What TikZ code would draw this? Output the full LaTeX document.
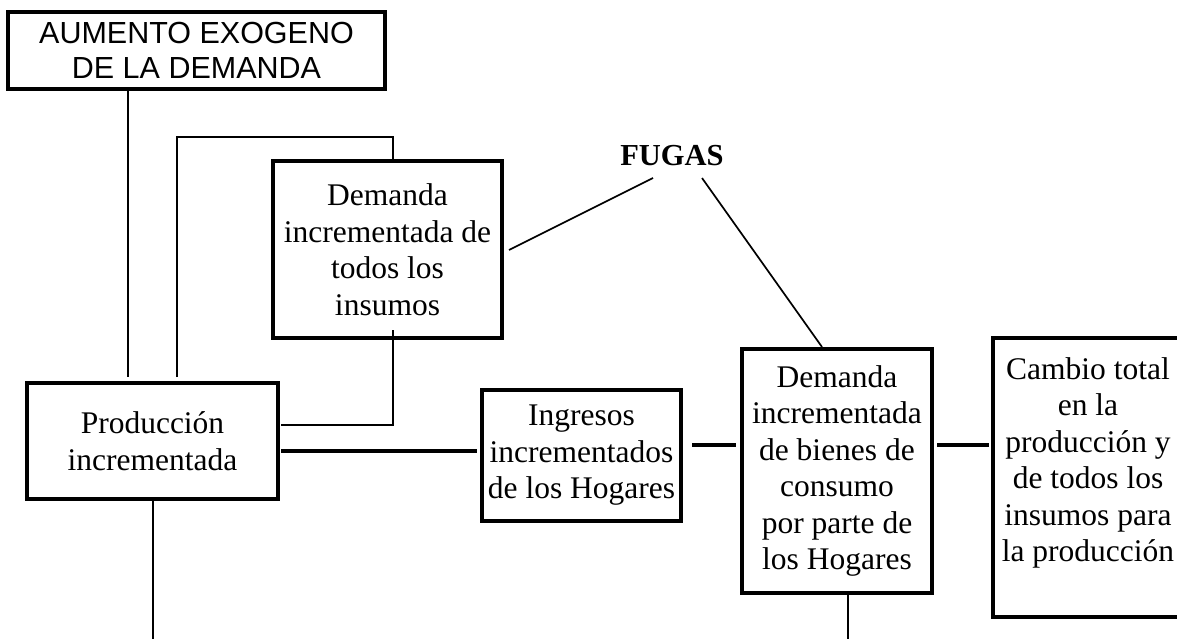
\documentclass[tikz,border=0pt]{standalone}
\usepackage{fontspec}
\setmainfont{Liberation Serif}
\newfontfamily\arialfont{Liberation Sans}
\begin{document}
\begin{tikzpicture}[x=1pt,y=-1pt,
  box/.style={draw, line width=3.4pt, inner sep=0pt, align=center,
    font=\fontsize{31.5}{36.5}\selectfont},
  conn/.style={line width=2.5pt},
  heavyconn/.style={line width=3.4pt},
  thinconn/.style={line width=1.7pt}]
\useasboundingbox (0,0) rectangle (1177,639);
\clip (0,0) rectangle (1177,639);

% boxes
\node[box, minimum width=377pt, minimum height=77pt,
  font=\arialfont\fontsize{30.5}{35}\selectfont] (A) at (196.5,50.5)
  {AUMENTO EXOGENO\\DE LA DEMANDA};
\node[box, minimum width=229pt, minimum height=177pt] (D) at (387.5,249.5)
  {Demanda\\incrementada de\\todos los\\insumos};
\node[box, minimum width=251pt, minimum height=116pt] (P) at (152.5,441)
  {Producción\\incrementada};
\node[box, minimum width=199pt, minimum height=131pt] (I) at (581.5,455.5)
  {Ingresos\\incrementados\\de los Hogares};
\node[box, minimum width=190pt, minimum height=244pt] (C) at (837,471)
  {Demanda\\incrementada\\de bienes de\\consumo\\por parte de\\los Hogares};
\node[box, minimum width=190pt, minimum height=279pt] (T) at (1088,477.5) {};
\node[anchor=north, inner sep=0pt, align=center,
  font=\fontsize{31.5}{36.5}\selectfont] (Ttext) at (1088,357)
  {Cambio total\\en la\\producción y\\de todos los\\insumos para\\la producción};
\node[anchor=base, inner sep=0pt, font=\bfseries\fontsize{30.5}{35}\selectfont]
  (F) at (672,166) {FUGAS};

% free ends
\coordinate (a1) at (128,377);
\coordinate (l1) at (177,377);
\coordinate (l2) at (393,137);
\coordinate (d1) at (393,330);
\coordinate (d2) at (281,425);
\coordinate (p1) at (281,451);
\coordinate (i1) at (477,451);
\coordinate (i2) at (692,445);
\coordinate (c1) at (736,445);
\coordinate (c2) at (937,445);
\coordinate (t1) at (989,445);
\coordinate (pb) at (153,639);
\coordinate (cb) at (848,639);
\coordinate (f1) at (509,250);
\coordinate (f2) at (653,178);
\coordinate (f3) at (702,178);
\coordinate (f4) at (822,347);

% connectors
\draw[conn] (A.south -| a1) -- (a1);
\draw[conn] (l1) |- (l2) -- (l2 |- D.north);
\draw[conn] (d1) |- (d2);
\draw[heavyconn] (p1) -- (i1);
\draw[heavyconn] (i2) -- (c1);
\draw[heavyconn] (c2) -- (t1);
\draw[conn] (P.south -| pb) -- (pb);
\draw[conn] (C.south -| cb) -- (cb);
\draw[thinconn] (f1) -- (f2);
\draw[thinconn] (f3) -- (f4);
\end{tikzpicture}
\end{document}
